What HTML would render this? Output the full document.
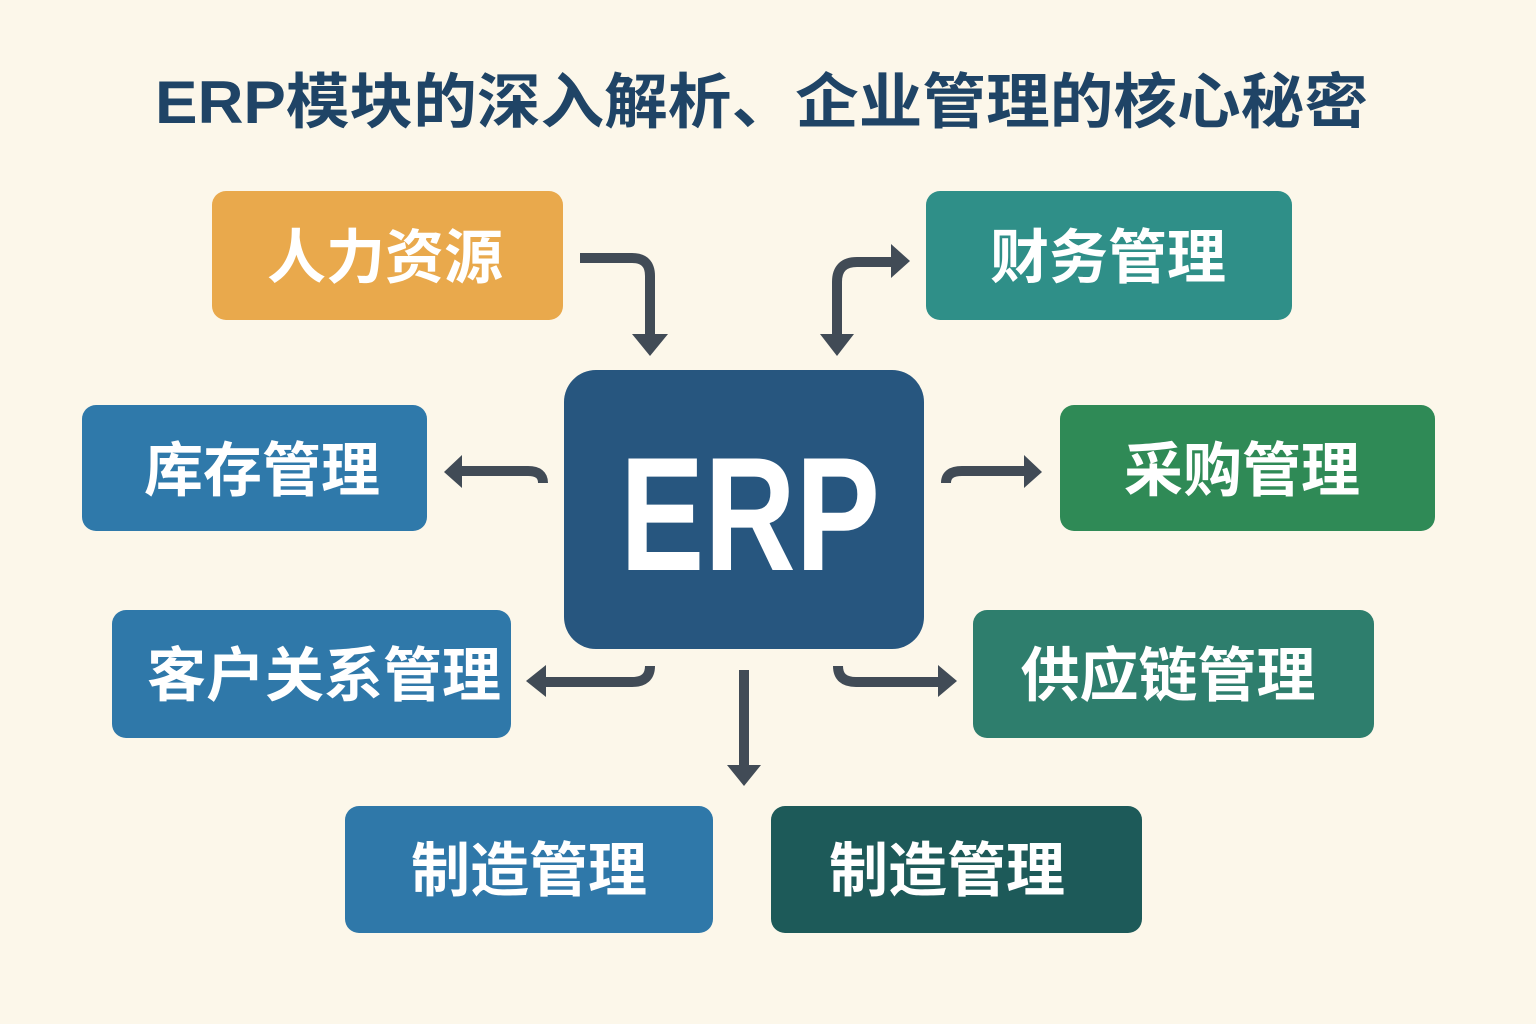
<!DOCTYPE html>
<html><head><meta charset="utf-8"><style>
body{margin:0;background:#fcf7ea;}
svg{display:block}
text{font-family:"Liberation Sans","Noto Sans CJK SC",sans-serif;font-weight:bold}
</style></head><body>
<svg width="1536" height="1024" viewBox="0 0 1536 1024" xmlns="http://www.w3.org/2000/svg">
<rect width="1536" height="1024" fill="#fcf7ea"/>
<text x="155" y="123" font-size="60" fill="#1f4466" textLength="1213" lengthAdjust="spacingAndGlyphs">ERP模块的深入解析、企业管理的核心秘密</text>
<g font-size="59" fill="#fff" text-anchor="middle">
<rect x="212" y="191" width="351" height="129" rx="14" fill="#e9a94c"/><text x="385" y="278">人力资源</text>
<rect x="926" y="191" width="366" height="129" rx="14" fill="#2f8f88"/><text x="1108" y="278">财务管理</text>
<rect x="82" y="405" width="345" height="126" rx="14" fill="#2f79aa"/><text x="262" y="491">库存管理</text>
<rect x="1060" y="405" width="375" height="126" rx="14" fill="#2f8a56"/><text x="1242" y="491">采购管理</text>
<rect x="112" y="610" width="399" height="128" rx="14" fill="#2f78a9"/><text x="324" y="696">客户关系管理</text>
<rect x="973" y="610" width="401" height="128" rx="14" fill="#2e7e6d"/><text x="1168" y="696">供应链管理</text>
<rect x="345" y="806" width="368" height="127" rx="14" fill="#2f78a9"/><text x="529" y="891">制造管理</text>
<rect x="771" y="806" width="371" height="127" rx="14" fill="#1d5a59"/><text x="947" y="891">制造管理</text>
<rect x="564" y="370" width="360" height="279" rx="32" fill="#27567f"/>
</g>
<text x="620" y="570" font-size="162" fill="#fff" textLength="260" lengthAdjust="spacingAndGlyphs">ERP</text>
<g stroke="#414b56" stroke-width="10" fill="none" stroke-linejoin="round">
<path d="M580 258 H632 Q650 258 650 276 V340"/>
<path d="M837 338 V282 Q837 262 857 262 H895"/>
<path d="M543 483 Q543 471 528 471 H460"/>
<path d="M946 483 Q946 471 962 471 H1026"/>
<path d="M650 666 Q650 682 632 682 H542"/>
<path d="M838 666 Q838 682 856 682 H942"/>
<path d="M744 670 V768"/>
</g>
<g fill="#414b56">
<polygon points="632,334 668,334 650,356"/>
<polygon points="820,334 854,334 837,356"/>
<polygon points="891,244 910,261 891,278"/>
<polygon points="462,455 444,472 462,488"/>
<polygon points="1024,455 1042,472 1024,488"/>
<polygon points="546,665 526,681 546,697"/>
<polygon points="938,665 957,681 938,697"/>
<polygon points="727,765 761,765 744,786"/>
</g>
</svg>
</body></html>
